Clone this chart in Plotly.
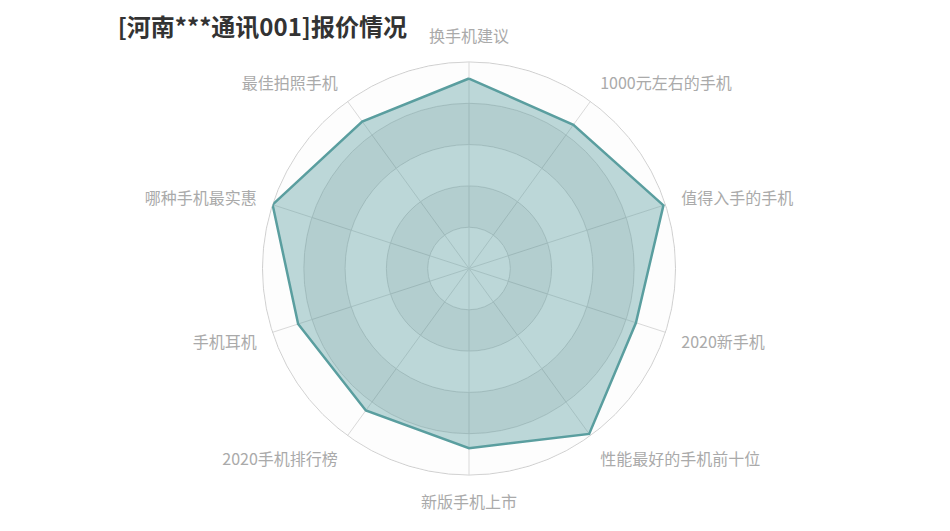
import plotly.graph_objects as go

categories = ["换手机建议", "1000元左右的手机", "值得入手的手机", "2020新手机",
              "性能最好的手机前十位", "新版手机上市", "2020手机排行榜", "手机耳机",
              "哪种手机最实惠", "最佳拍照手机"]
values = [92, 86, 99, 85, 99, 87, 85, 87, 100, 88]
ring_max = 100
ring_count = 5
title_text = "[河南***通讯001]报价情况"

step = 360 / len(categories)
angles = [i * step for i in range(len(categories))]
ring_w = ring_max / ring_count
band_colors = ["rgba(250,250,250,0.3)", "rgba(200,200,200,0.3)"]

fig = go.Figure()
for k in range(ring_count):
    fig.add_trace(go.Barpolar(
        r=[ring_w], base=[k * ring_w], theta=[180], width=[360],
        marker=dict(color=band_colors[k % 2], line=dict(width=0)),
        hoverinfo="skip", showlegend=False))

fig.add_trace(go.Scatterpolar(
    r=values + [values[0]], theta=angles + [angles[0]],
    mode="lines", fill="toself",
    line=dict(color="#5a9e9f", width=2.5),
    fillcolor="rgba(90,158,159,0.4)", showlegend=False))

fig.update_layout(
    width=950, height=531,
    margin=dict(l=0, r=12, t=62, b=56),
    paper_bgcolor="white",
    font=dict(family="Noto Sans CJK SC, sans-serif"),
    title=dict(text="<b>" + title_text + "</b>", x=0.124, xanchor="left",
               y=0.948, yanchor="middle",
               font=dict(size=24, color="#333333", family="Noto Sans CJK SC")),
    polar=dict(
        bgcolor="white",
        bargap=0,
        radialaxis=dict(range=[0, ring_max], tickvals=[ring_w * (k + 1) for k in range(ring_count)],
                        showticklabels=False, ticks="", showline=False,
                        gridcolor="#cccccc", gridwidth=1, layer="below traces"),
        angularaxis=dict(tickmode="array", tickvals=angles, ticktext=categories,
                         rotation=90, direction="clockwise",
                         ticks="outside", ticklen=13, tickcolor="rgba(0,0,0,0)",
                         showline=True, linecolor="#cccccc", linewidth=1,
                         gridcolor="#cccccc", gridwidth=1, layer="below traces",
                         tickfont=dict(size=16, color="#aaaaaa",
                                       family="Noto Sans CJK SC")),
    ),
)
fig.write_html("out.html")
